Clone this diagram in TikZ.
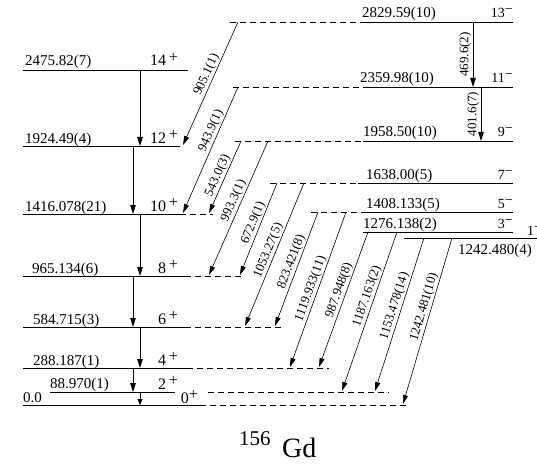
\documentclass[tikz,border=0pt]{standalone}
\usepackage{fontspec}
\setmainfont{Liberation Serif}
\usetikzlibrary{arrows.meta}
\begin{document}
\begin{tikzpicture}[x=1pt,y=-1pt,
  lvl/.style={line width=0.9pt},
  dlvl/.style={line width=0.8pt, dash pattern=on 6pt off 4pt},
  gam/.style={line width=0.6pt,-{Triangle[length=9pt,width=5pt]}},
  vgam/.style={line width=0.9pt,-{Triangle[length=9pt,width=5.5pt]}},
  elab/.style={font=\fontsize{15}{15}\selectfont, inner sep=0pt, anchor=base west},
  slabl/.style={font=\fontsize{16}{16}\selectfont, inner sep=0pt, anchor=base east},
  slabr/.style={font=\fontsize{14}{14}\selectfont, inner sep=0pt, anchor=base east},
  glab/.style={font=\fontsize{13}{13}\selectfont, sloped, above, inner sep=1pt},
  vlab/.style={font=\fontsize{13}{13}\selectfont, rotate=90, anchor=south, inner sep=1.5pt, midway}
]
\useasboundingbox (0,0) rectangle (537,465);

% ---------- left band (positive parity) ----------
\coordinate (L14a) at (23,70);  \coordinate (L14b) at (188,70);
\coordinate (L12a) at (23,146); \coordinate (L12b) at (180,146);
\coordinate (L10a) at (23,214); \coordinate (L10b) at (180,214); \coordinate (L10c) at (213,214);
\coordinate (L8a) at (23,276);  \coordinate (L8b) at (185,276);  \coordinate (L8c) at (241,276);
\coordinate (L6a) at (23,327);  \coordinate (L6b) at (185,327);  \coordinate (L6c) at (281,327);
\coordinate (L4a) at (23,368);  \coordinate (L4b) at (187,368);  \coordinate (L4c) at (329,368);
\coordinate (L2a) at (50,392);  \coordinate (L2b) at (175,392);  \coordinate (L2d) at (208,392); \coordinate (L2c) at (389,392);
\coordinate (L0a) at (23,405);  \coordinate (L0b) at (200,405);  \coordinate (L0c) at (406,405);

\draw[lvl] (L14a) -- (L14b);
\draw[lvl] (L12a) -- (L12b);
\draw[lvl] (L10a) -- (L10b); \draw[dlvl] (L10b) -- (L10c);
\draw[lvl] (L8a) -- (L8b);   \draw[dlvl] (L8b) -- (L8c);
\draw[lvl] (L6a) -- (L6b);   \draw[dlvl] (L6b) -- (L6c);
\draw[lvl] (L4a) -- (L4b);   \draw[dlvl] (L4b) -- (L4c);
\draw[lvl] (L2a) -- (L2b);   \draw[dlvl] (L2d) -- (L2c);
\draw[lvl] (L0a) -- (L0b);   \draw[dlvl] (L0b) -- (L0c);

\node[elab] (e14) at (25,66)  {2475.82(7)};
\node[elab] (e12) at (25,143) {1924.49(4)};
\node[elab] (e10) at (25,211) {1416.078(21)};
\node[elab] (e8)  at (32,273) {965.134(6)};
\node[elab] (e6)  at (33,324) {584.715(3)};
\node[elab] (e4)  at (33,365) {288.187(1)};
\node[elab] (e2)  at (50,388) {88.970(1)};
\node[elab] (e0)  at (23,402) {0.0};

\node[slabl] (s14) at (178,66)  {14\,\raisebox{3.5pt}{+}};
\node[slabl] (s12) at (178,143) {12\,\raisebox{3.5pt}{+}};
\node[slabl] (s10) at (178,211) {10\,\raisebox{3.5pt}{+}};
\node[slabl] (s8)  at (178,273) {8\,\raisebox{3.5pt}{+}};
\node[slabl] (s6)  at (178,324) {6\,\raisebox{3.5pt}{+}};
\node[slabl] (s4)  at (178,365) {4\,\raisebox{3.5pt}{+}};
\node[slabl] (s2)  at (178,389) {2\,\raisebox{3.5pt}{+}};
\node[slabl] (s0)  at (198,403) {0\raisebox{3.5pt}{+}};

% in-band transitions
\coordinate (v1a) at (140,70);  \coordinate (v1b) at (140,146);
\coordinate (v2a) at (133,146); \coordinate (v2b) at (133,214);
\coordinate (v3a) at (140,214); \coordinate (v3b) at (140,276);
\coordinate (v4a) at (133,276); \coordinate (v4b) at (133,327);
\coordinate (v5a) at (140,327); \coordinate (v5b) at (140,368);
\coordinate (v6a) at (133,368); \coordinate (v6b) at (133,392);
\coordinate (v7a) at (140,392); \coordinate (v7b) at (140,405);
\draw[vgam] (v1a) -- (v1b);
\draw[vgam] (v2a) -- (v2b);
\draw[vgam] (v3a) -- (v3b);
\draw[vgam] (v4a) -- (v4b);
\draw[vgam] (v5a) -- (v5b);
\draw[vgam] (v6a) -- (v6b);
\draw[line width=0.9pt,-{Triangle[length=6pt,width=5pt]}] (v7a) -- (v7b);

% ---------- right band (negative parity) ----------
\coordinate (R13d) at (230,22);  \coordinate (R13a) at (363,22);  \coordinate (R13b) at (513,22);
\coordinate (R11d) at (233,87);  \coordinate (R11a) at (363,87);  \coordinate (R11b) at (513,87);
\coordinate (R9d)  at (235,141); \coordinate (R9a)  at (363,141); \coordinate (R9b)  at (513,141);
\coordinate (R7d)  at (270,183); \coordinate (R7a)  at (358,183); \coordinate (R7b)  at (513,183);
\coordinate (R5d)  at (311,212); \coordinate (R5a)  at (363,212); \coordinate (R5b)  at (513,212);
\coordinate (R3a)  at (363,232); \coordinate (R3b)  at (513,232);
\coordinate (R1a)  at (404,238); \coordinate (R1b)  at (537,238);

\draw[dlvl] (R13d) -- (R13a); \draw[lvl] (R13a) -- (R13b);
\draw[dlvl] (R11d) -- (R11a); \draw[lvl] (R11a) -- (R11b);
\draw[dlvl] (R9d) -- (R9a);   \draw[lvl] (R9a) -- (R9b);
\draw[dlvl] (R7d) -- (R7a);   \draw[lvl] (R7a) -- (R7b);
\draw[dlvl] (R5d) -- (R5a);   \draw[lvl] (R5a) -- (R5b);
\draw[lvl] (R3a) -- (R3b);
\draw[lvl] (R1a) -- (R1b);

\node[elab] (e13) at (362,18)  {2829.59(10)};
\node[elab] (e11) at (360,83)  {2359.98(10)};
\node[elab] (e9)  at (363,137) {1958.50(10)};
\node[elab] (e7)  at (366,179) {1638.00(5)};
\node[elab] (e5)  at (366,208) {1408.133(5)};
\node[elab] (e3)  at (363,228) {1276.138(2)};
\node[elab] (e1)  at (458,254) {1242.480(4)};

\node[slabr] (s13) at (513,18)  {13\raisebox{4pt}{−}};
\node[slabr] (s11) at (513,83)  {11\raisebox{4pt}{−}};
\node[slabr] (s9)  at (513,137) {9\raisebox{4pt}{−}};
\node[slabr] (s7)  at (513,179) {7\raisebox{4pt}{−}};
\node[slabr] (s5)  at (513,208) {5\raisebox{4pt}{−}};
\node[slabr] (s3)  at (513,228) {3\raisebox{4pt}{−}};
\node[slabr, anchor=base west] (s1) at (527,235) {1\raisebox{4pt}{−}};

\coordinate (w1a) at (473,22); \coordinate (w1b) at (473,87);
\coordinate (w2a) at (481,87); \coordinate (w2b) at (481,141);
\draw[vgam] (w1a) -- node[vlab] (g4696) {469.6(2)} (w1b);
\draw[vgam] (w2a) -- node[vlab] (g4016) {401.6(7)} (w2b);

% ---------- inter-band transitions ----------
\coordinate (d1a) at (238,22);  \coordinate (d1b) at (183,145);
\coordinate (d2a) at (238,87);  \coordinate (d2b) at (183,213);
\coordinate (d3a) at (241,141); \coordinate (d3b) at (209,213);
\coordinate (d4a) at (268,141); \coordinate (d4b) at (209,275);
\coordinate (d5a) at (277,183); \coordinate (d5b) at (240,275);
\coordinate (d6a) at (304,183); \coordinate (d6b) at (245,326);
\coordinate (d7a) at (318,212); \coordinate (d7b) at (275,326);
\coordinate (d8a) at (346,212); \coordinate (d8b) at (290,367);
\coordinate (d9a) at (368,232); \coordinate (d9b) at (319,367);
\coordinate (d10a) at (397,232); \coordinate (d10b) at (342,391);
\coordinate (d11a) at (424,238); \coordinate (d11b) at (375,391);
\coordinate (d12a) at (452,238); \coordinate (d12b) at (403,404);

\draw[gam] (d1a) -- node[glab,pos=0.45] (g9051) {905.1(1)} (d1b);
\draw[gam] (d2a) -- node[glab,pos=0.37] (g9439) {943.9(1)} (d2b);
\draw[gam] (d3a) -- node[glab,pos=0.52] (g5430) {543.0(3)} (d3b);
\draw[gam] (d4a) -- node[glab,pos=0.47] (g9933) {993.3(1)} (d4b);
\draw[gam] (d5a) -- node[glab,pos=0.46] (g6729) {672.9(1)} (d5b);
\draw[gam] (d6a) -- node[glab,pos=0.49] (g1053) {1053.27(5)} (d6b);
\draw[gam] (d7a) -- node[glab,pos=0.46] (g8234) {823.421(8)} (d7b);
\draw[gam] (d8a) -- node[glab,pos=0.51] (g1119) {1119.933(11)} (d8b);
\draw[gam] (d9a) -- node[glab,pos=0.45] (g9879) {987.948(8)} (d9b);
\draw[gam] (d10a) -- node[glab,pos=0.42] (g1187) {1187.163(2)} (d10b);
\draw[gam] (d11a) -- node[glab,pos=0.46] (g1153) {1153.478(14)} (d11b);
\draw[gam] (d12a) -- node[glab,pos=0.43] (g1242) {1242.481(10)} (d12b);

% ---------- title ----------
\node[inner sep=0pt, anchor=base west, font=\fontsize{21}{21}\selectfont] (mass) at (239,445) {156};
\node[inner sep=0pt, anchor=base west, font=\fontsize{28}{28}\selectfont] (elem) at (282,457) {Gd};
\end{tikzpicture}
\end{document}
